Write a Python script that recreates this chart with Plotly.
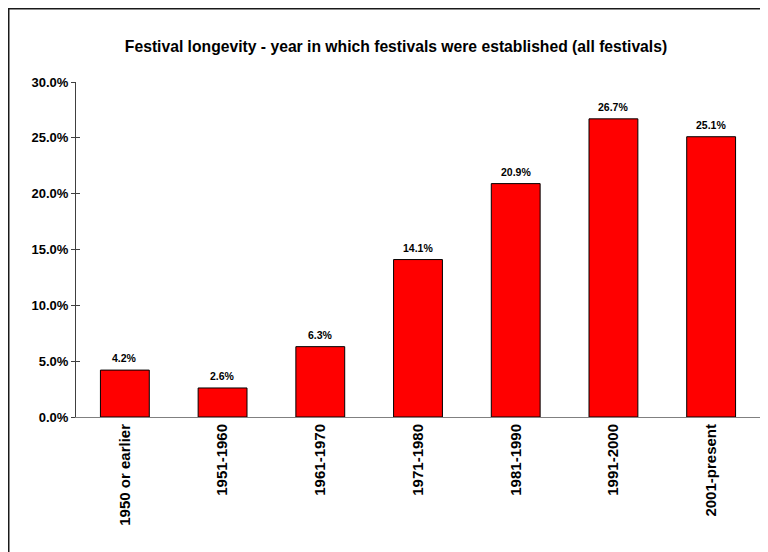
import plotly.graph_objects as go

categories = ["1950 or earlier", "1951-1960", "1961-1970", "1971-1980", "1981-1990", "1991-2000", "2001-present"]
values = [0.042, 0.026, 0.063, 0.141, 0.209, 0.267, 0.251]
y_ticks = [0, 0.05, 0.10, 0.15, 0.20, 0.25, 0.30]
title_text = "Festival longevity - year in which festivals were established (all festivals)"

FONT = "Liberation Sans, Arial, sans-serif"
W, H = 768, 552
OFF = 8  # page body margin offset
L, R, T, B = 76 - OFF, 768 - 760 + OFF, 82 - OFF, 552 - 417 + OFF
pw, ph = W - L - R, H - T - B

fig = go.Figure()
fig.add_trace(go.Bar(
    x=categories, y=values,
    marker=dict(color="#FF0000", line=dict(color="#000000", width=1)),
    width=0.5,
    showlegend=False,
))
fig.add_trace(go.Scatter(x=[categories[0]], y=[0], yaxis="y2", mode="markers",
                         marker=dict(opacity=0), showlegend=False, hoverinfo="skip"))

for c, v in zip(categories, values):
    fig.add_annotation(x=c, y=v, text=f"{v * 100:.1f}%", showarrow=False,
                       yanchor="bottom", yshift=4,
                       font=dict(family=FONT, size=10.5, color="#000000", weight="bold"))

fig.update_layout(
    width=W, height=H,
    margin=dict(l=L, r=R, t=T, b=B, pad=0),
    paper_bgcolor="white", plot_bgcolor="white",
    font=dict(family=FONT, color="#000000"),
    title=dict(text=title_text, x=(396 - OFF) / W, xref="container", xanchor="center",
               y=1 - (47 - OFF) / H, yref="container", yanchor="middle",
               font=dict(family=FONT, size=15.7, color="#000000", weight="bold")),
    xaxis=dict(showgrid=False, showline=True, linecolor="#808080", linewidth=1,
               ticks="", tickangle=-90,
               tickfont=dict(family=FONT, size=15, color="#000000", weight="bold")),
    yaxis=dict(range=[0, 0.30], tickvals=y_ticks, tickformat=".1%",
               showgrid=False, showline=True, linecolor="#404040", linewidth=1,
               ticks="outside", ticklen=4, tickcolor="#404040", zeroline=False,
               tickfont=dict(family=FONT, size=13, color="#000000", weight="bold")),
    yaxis2=dict(range=[0, 0.30], tickvals=y_ticks, overlaying="y", side="left",
                showgrid=False, showline=False, zeroline=False, showticklabels=False,
                ticks="inside", ticklen=4, tickcolor="#404040"),
    bargap=0.5,
)

# outer chart border (only left/top edges fall inside the view)
fig.add_shape(type="rect", xref="paper", yref="paper",
              x0=(0.5 - L) / pw, x1=(W + 30 - L) / pw,
              y0=(H - B - (H + 30)) / ph, y1=(H - B - 0.5) / ph,
              line=dict(color="#1a1a1a", width=2), fillcolor="rgba(0,0,0,0)", layer="below")

fig.write_html("out.html")
